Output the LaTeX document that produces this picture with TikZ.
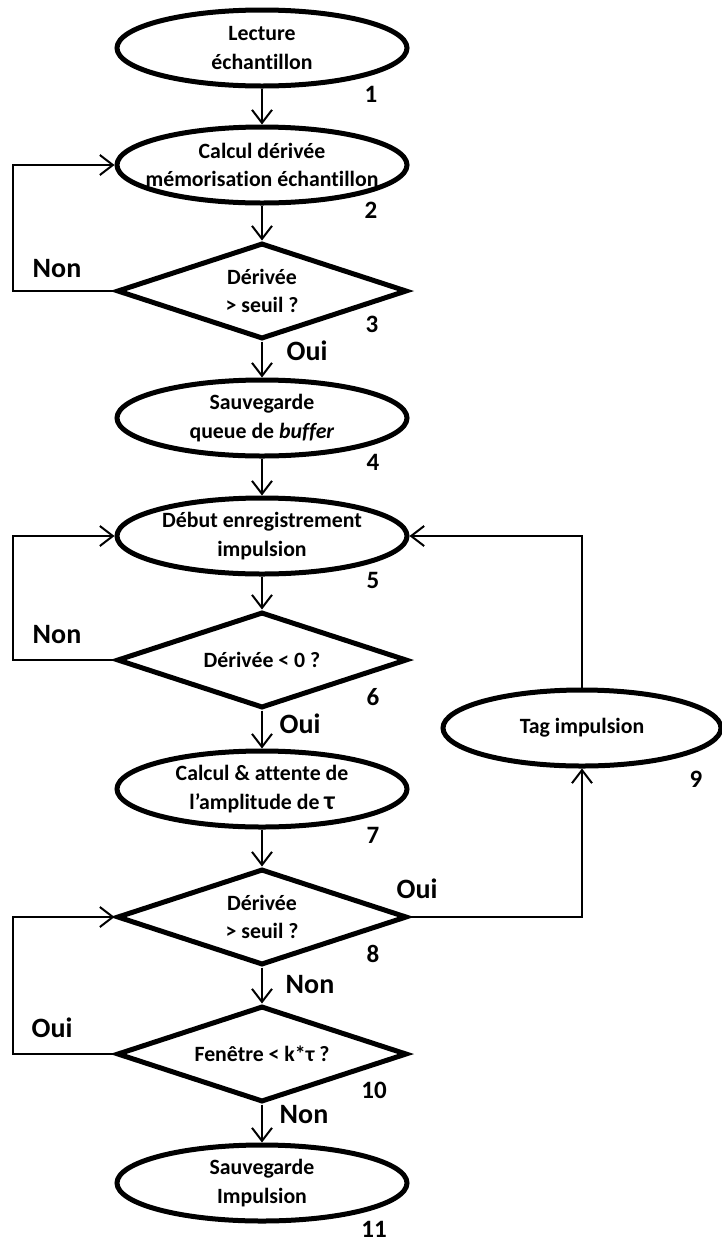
\documentclass[tikz,border=0pt]{standalone}
\usepackage{fontspec}
\setmainfont{Carlito}[Ligatures=NoCommon]
\usetikzlibrary{shapes.geometric,arrows.meta}
\begin{document}
\begin{tikzpicture}[x=1pt,y=-1pt,
  txt/.style={font=\fontsize{21.8}{28.5}\selectfont\bfseries},
  proc/.style={ellipse, draw, line width=5pt, minimum width=290pt, minimum height=76pt, inner xsep=-30pt, inner ysep=-6pt, align=center, txt},
  dec/.style={diamond, draw, line width=5pt, minimum width=290pt, minimum height=96pt, inner sep=0pt, aspect=3, align=center, txt},
  conn/.style={line width=2pt, -{Straight Barb[length=13pt,width=20pt]}},
  num/.style={anchor=base, inner sep=0pt, font=\fontsize{25}{25}\selectfont\bfseries},
  yn/.style={anchor=base, inner sep=0pt, font=\fontsize{28}{28}\selectfont\bfseries}]
\useasboundingbox (0,0) rectangle (722,1243);

\node[proc] (e1) at (262,48) {Lecture\\échantillon};
\node[proc] (e2) at (262,165) {Calcul dérivée\\mémorisation échantillon};
\node[dec]  (d3) at (262,291) {Dérivée\\> seuil ?};
\node[proc] (e4) at (262,418) {Sauvegarde\\queue de \textit{buffer}};
\node[proc] (e5) at (262,536) {Début enregistrement\\impulsion};
\node[dec]  (d6) at (262,660) {Dérivée < 0 ?};
\node[proc] (e7) at (262,789) {Calcul \& attente de\\l’amplitude de {\fontsize{26}{28.5}\selectfont τ}};
\node[dec]  (d8) at (262,917) {Dérivée\\> seuil ?};
\node[dec]  (d10) at (262,1054) {Fenêtre < k*τ ?};
\node[proc] (e11) at (262,1183) {Sauvegarde\\Impulsion};
\node[proc, minimum width=278pt] (e9) at (582,728) {Tag impulsion};

\coordinate (lx) at (13,0);

\draw[conn] (e1) -- (e2);
\draw[conn] (e2) -- (d3);
\draw[conn] (d3.west) -- (d3.west -| lx) |- (e2.west);
\draw[conn] (d3) -- (e4);
\draw[conn] (e4) -- (e5);
\draw[conn] (e5) -- (d6);
\draw[conn] (d6.west) -- (d6.west -| lx) |- (e5.west);
\draw[conn] (d6) -- (e7);
\draw[conn] (e7) -- (d8);
\draw[conn] (d8.east) -| (e9.south);
\draw[conn] (e9.north) |- (e5.east);
\draw[conn] (d8) -- (d10);
\draw[conn] (d10.west) -- (d10.west -| lx) |- (d8.west);
\draw[conn] (d10) -- (e11);

\node[num] (n1) at (371,102) {1};
\node[num] (n2) at (371,218) {2};
\node[num] (n3) at (372,332) {3};
\node[num] (n4) at (373,470) {4};
\node[num] (n5) at (373,588) {5};
\node[num] (n6) at (373,705) {6};
\node[num] (n7) at (373,843) {7};
\node[num] (n8) at (373,962) {8};
\node[num] (n9) at (696,787) {9};
\node[num] (n10) at (374,1098) {10};
\node[num] (n11) at (374,1237) {11};

\node[yn] (y1) at (57,277) {Non};
\node[yn] (y2) at (307,360) {Oui};
\node[yn] (y3) at (57,643) {Non};
\node[yn] (y4) at (300,733) {Oui};
\node[yn] (y5) at (417,898) {Oui};
\node[yn] (y6) at (310,993) {Non};
\node[yn] (y7) at (52,1037) {Oui};
\node[yn] (y8) at (304,1123) {Non};
\end{tikzpicture}
\end{document}
